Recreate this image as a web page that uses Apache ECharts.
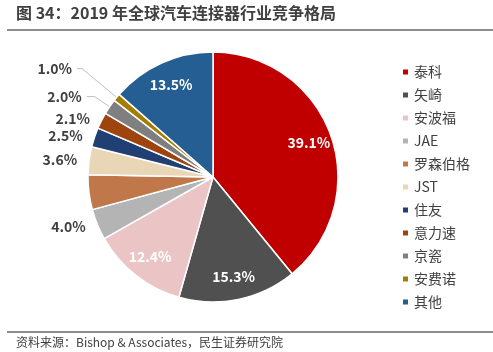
<!DOCTYPE html>
<html>
<head>
<meta charset="utf-8">
<script src="https://cdn.jsdelivr.net/npm/echarts@6/dist/echarts.min.js"></script>
<style>
  html, body { margin: 0; padding: 0; background: #fff; }
  #chart { width: 493px; height: 352px; }
</style>
</head>
<body>
<div id="chart"></div>
<script>
// 厂商与份额（%）
const companies = ['泰科', '矢崎', '安波福', 'JAE', '罗森伯格', 'JST', '住友', '意力速', '京瓷', '安费诺', '其他'];
const shares = [39.1, 15.3, 12.4, 4.0, 4.5, 3.6, 2.5, 2.1, 2.0, 1.0, 13.5];
const colors = ['#C00000', '#505050', '#EBC5C5', '#B4B4B4', '#C0784A', '#E9D6B6',
                '#203F73', '#9E440F', '#7F7F7F', '#A47D00', '#245E92'];
// 大块标签放在扇区内部（白字），其余放外面
const insideNames = ['泰科', '矢崎', '安波福', '其他'];

const FONT = '"Noto Sans CJK SC", "Noto Sans", sans-serif';
const center = [213, 177];
const R = 125;

let myChart = echarts.init(document.getElementById('chart'));

const fmt = p => p.value.toFixed(1) + '%';

myChart.setOption({
    color: colors,
    animation: false,
    title: [{
        text: '图 34：2019 年全球汽车连接器行业竞争格局',
        left: 16,
        top: 5,
        padding: 0,
        textStyle: { fontFamily: FONT, fontSize: 16, fontWeight: 'bold', color: '#404040' }
    }, {
        text: '资料来源：Bishop & Associates，民生证券研究院',
        left: 16,
        top: 336,
        padding: 0,
        textStyle: { fontFamily: FONT, fontSize: 12, fontWeight: 'normal', color: '#404040' }
    }],
    graphic: [
        { type: 'line', shape: { x1: 7, y1: 30, x2: 493, y2: 30 }, style: { stroke: '#666666', lineWidth: 1.5 } },
        { type: 'line', shape: { x1: 7, y1: 332, x2: 493, y2: 332 }, style: { stroke: '#666666', lineWidth: 1.5 } }
    ],
    legend: {
        orient: 'vertical',
        left: 396,
        top: 59,
        itemWidth: 7,
        itemHeight: 7,
        itemGap: 7,
        icon: 'rect',
        data: companies,
        textStyle: { fontFamily: FONT, fontSize: 14, color: '#404040', lineHeight: 16 }
    },
    series: [{
        // 实际扇区 + 外侧标签
        type: 'pie',
        center: center,
        radius: [0, R],
        startAngle: 90,
        clockwise: true,
        avoidLabelOverlap: false,
        itemStyle: { borderColor: '#fff', borderWidth: 1.5 },
        label: {
            show: true,
            position: 'outside',
            formatter: fmt,
            fontFamily: FONT,
            fontSize: 14,
            fontWeight: 'bold',
            color: '#404040'
        },
        labelLine: { show: false, length: 5, length2: 2, lineStyle: { color: '#bfbfbf', width: 1 } },
        emphasis: { disabled: true },
        data: companies.map((name, i) => {
            const d = { name: name, value: shares[i] };
            if (insideNames.includes(name)) {
                d.label = { show: false };
            }
            if (name === '罗森伯格') {
                d.label = { color: '#ffffff' };
            }
            if (name === '京瓷') {
                d.labelLine = { show: true, length: 18, length2: 8 };
            }
            if (name === '安费诺') {
                d.labelLine = { show: true, length: 45, length2: 5 };
            }
            return d;
        })
    }, {
        // 透明层，只用来把白色标签放到约 0.78R 处
        type: 'pie',
        center: center,
        radius: [0, R * 1.58],
        startAngle: 90,
        clockwise: true,
        silent: true,
        legendHoverLink: false,
        itemStyle: { color: 'rgba(0,0,0,0)' },
        label: {
            show: true,
            position: 'inside',
            formatter: fmt,
            fontFamily: FONT,
            fontSize: 14,
            fontWeight: 'bold',
            color: '#ffffff'
        },
        labelLine: { show: false },
        emphasis: { disabled: true },
        data: companies.map((name, i) => ({
            name: name,
            value: shares[i],
            label: { show: insideNames.includes(name) }
        }))
    }]
});
</script>
</body>
</html>
